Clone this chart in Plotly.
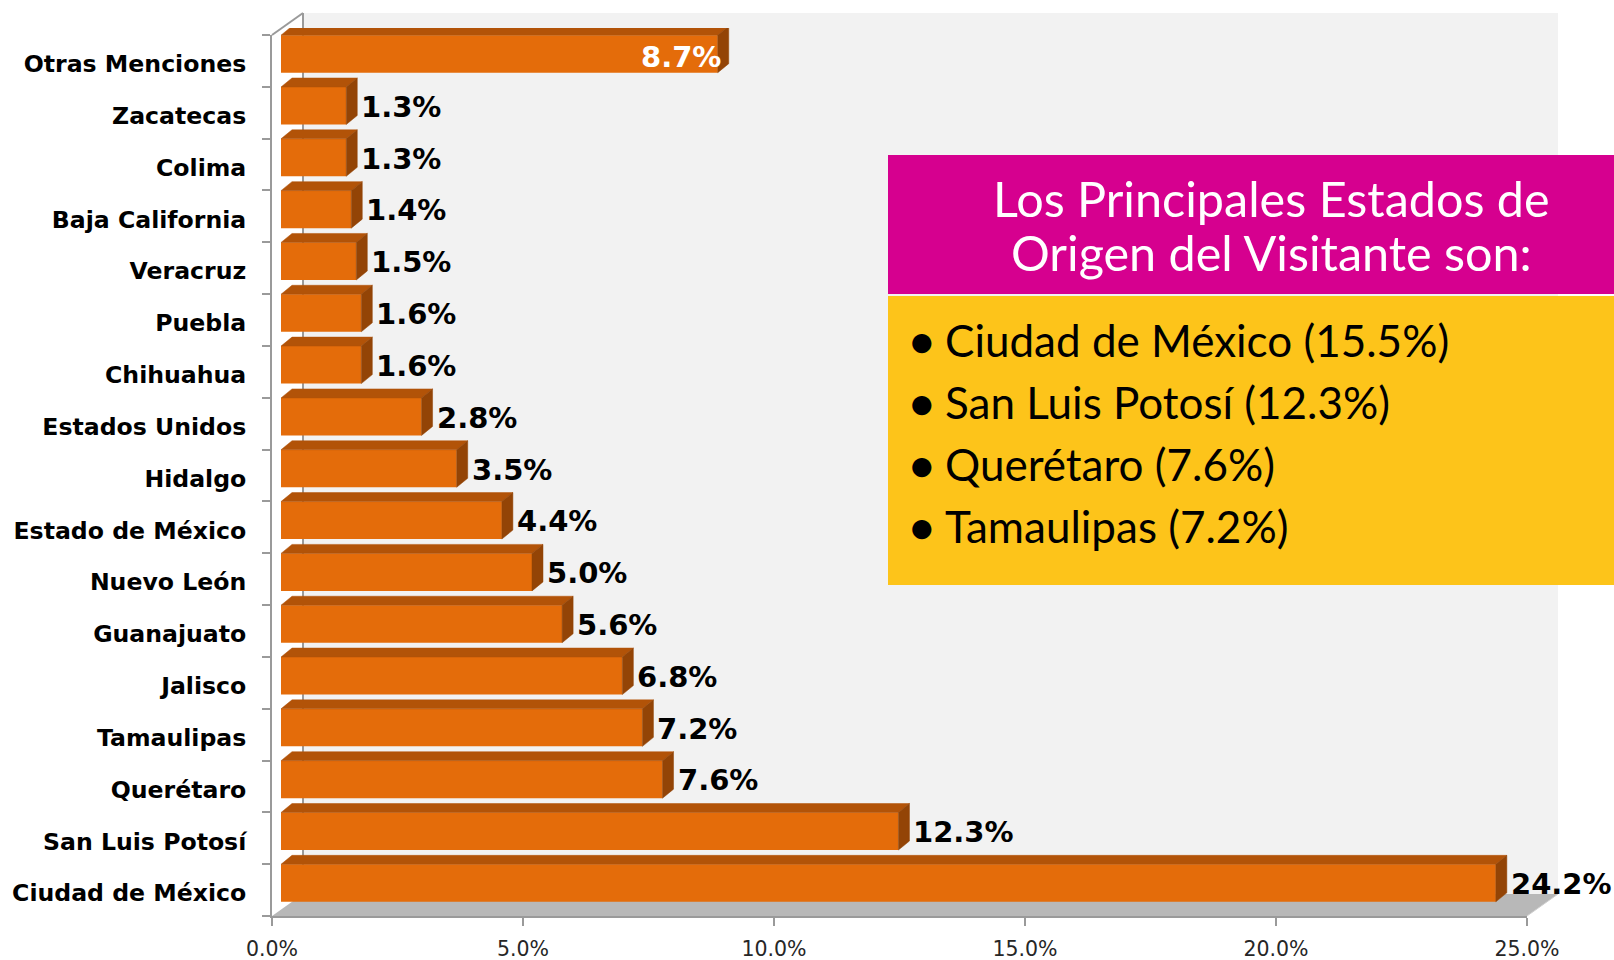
import plotly.graph_objects as go

# ---- data -------------------------------------------------------------
categories = [
    "Ciudad de México", "San Luis Potosí", "Querétaro", "Tamaulipas",
    "Jalisco", "Guanajuato", "Nuevo León", "Estado de México", "Hidalgo",
    "Estados Unidos", "Chihuahua", "Puebla", "Veracruz", "Baja California",
    "Colima", "Zacatecas", "Otras Menciones",
]
shares = [24.2, 12.3, 7.6, 7.2, 6.8, 5.6, 5.0, 4.4, 3.5, 2.8, 1.6, 1.6,
          1.5, 1.4, 1.3, 1.3, 8.7]
x_tick_values = [0, 5, 10, 15, 20, 25]
x_tick_labels = ["0.0%", "5.0%", "10.0%", "15.0%", "20.0%", "25.0%"]
inside_label_category = "Otras Menciones"

box_title_lines = ["Los Principales Estados de", "Origen del Visitante son:"]
box_items = [
    "Ciudad de México (15.5%)",
    "San Luis Potosí (12.3%)",
    "Querétaro (7.6%)",
    "Tamaulipas (7.2%)",
]

# ---- geometry (pixels) ------------------------------------------------
W, H = 1614, 960
X_MAX = 25
FRONT_L, FRONT_R = 272, 1527      # 0% and 25% on the front plane
FRONT_T, FRONT_B = 35, 916        # top / bottom of the category axis
BAR_SHIFT_X, BAR_SHIFT_Y = 9, 7   # bar front faces sit slightly inside
WALL_DX, WALL_DY = 31, 22         # depth of the back wall
FACE_DX, FACE_DY = 11, 9          # depth of each bar
BAR_PX = 37.5                     # height of a bar front face

ORANGE = "#e46c0a"
ORANGE_TOP = "#b25308"
ORANGE_SIDE = "#934406"
AXIS_GRAY = "#9a9a9a"
WALL = "#f2f2f2"
FLOOR = "#b8b8b8"
MAGENTA = "#d6008f"
YELLOW = "#fdc41a"

n = len(categories)
band = (FRONT_B - FRONT_T) / n
px_per_unit = (FRONT_R - FRONT_L) / X_MAX


def fx(px):
    return px / W


def fy(py):
    return 1 - py / H


half = BAR_PX / band / 2
dx = FACE_DX / px_per_unit
dy = FACE_DY / band
pos = list(range(n))

fig = go.Figure()

# front faces
fig.add_trace(go.Bar(
    x=shares, y=pos, orientation="h", width=2 * half,
    marker=dict(color=ORANGE, line=dict(width=0)),
    hoverinfo="skip", xaxis="x", yaxis="y",
))

# top and side faces of each bar
top_x, top_y, side_x, side_y = [], [], [], []
for i, v in zip(pos, shares):
    top_x += [0, v, v + dx, dx, 0, None]
    top_y += [i + half, i + half, i + half + dy, i + half + dy, i + half, None]
    side_x += [v, v, v + dx, v + dx, v, None]
    side_y += [i - half, i + half, i + half + dy, i - half + dy, i - half, None]

fig.add_trace(go.Scatter(
    x=top_x, y=top_y, mode="lines", fill="toself", fillcolor=ORANGE_TOP,
    line=dict(width=0.5, color=ORANGE_TOP), hoverinfo="skip",
    xaxis="x", yaxis="y",
))
fig.add_trace(go.Scatter(
    x=side_x, y=side_y, mode="lines", fill="toself", fillcolor=ORANGE_SIDE,
    line=dict(width=0.5, color=ORANGE_SIDE), hoverinfo="skip",
    xaxis="x", yaxis="y",
))

# the front-plane axes carry the tick marks and category names
fig.add_trace(go.Scatter(
    x=[0], y=[0], mode="markers", marker=dict(opacity=0),
    hoverinfo="skip", xaxis="x2", yaxis="y2",
))

# value labels
annotations = []
for i, (cat, v) in enumerate(zip(categories, shares)):
    inside = cat == inside_label_category
    annotations.append(dict(
        x=v, y=i, xref="x", yref="y",
        xanchor="right" if inside else "left", yanchor="middle",
        xshift=5 if inside else 13, yshift=-3 if inside else -1,
        text=f"{v:.1f}%", showarrow=False,
        font=dict(family="DejaVu Sans", size=29,
                  color="white" if inside else "black", weight="bold"),
    ))

# summary box text
title_y = [198, 252]
for line, yy in zip(box_title_lines, title_y):
    annotations.append(dict(
        x=fx(1271), y=fy(yy), xref="paper", yref="paper",
        xanchor="center", yanchor="middle", text=line, showarrow=False,
        font=dict(family="Lato", size=48.5, color="white"),
    ))
item_y = [340, 402, 464, 526]
for item, yy in zip(box_items, item_y):
    annotations.append(dict(
        x=fx(922), y=fy(yy), xref="paper", yref="paper",
        xanchor="center", yanchor="middle", text="•", showarrow=False,
        font=dict(family="Lato", size=44, color="black", weight="bold"),
    ))
    annotations.append(dict(
        x=fx(943), y=fy(yy), xref="paper", yref="paper",
        xanchor="left", yanchor="middle", text=item, showarrow=False,
        font=dict(family="Lato", size=44, color="black"),
    ))

# walls, floor and the summary box
shapes = [
    dict(type="rect", xref="paper", yref="paper", layer="below",
         x0=fx(FRONT_L + WALL_DX), x1=fx(FRONT_R + WALL_DX),
         y0=fy(FRONT_B - WALL_DY), y1=fy(FRONT_T - WALL_DY),
         fillcolor=WALL, line=dict(width=0)),
    dict(type="path", xref="paper", yref="paper", layer="below",
         path=(f"M {fx(FRONT_L)} {fy(FRONT_B)} L {fx(FRONT_R)} {fy(FRONT_B)} "
               f"L {fx(FRONT_R + WALL_DX)} {fy(FRONT_B - WALL_DY)} "
               f"L {fx(FRONT_L + WALL_DX)} {fy(FRONT_B - WALL_DY)} Z"),
         fillcolor=FLOOR, line=dict(width=0)),
    dict(type="line", xref="paper", yref="paper", layer="below",
         x0=fx(FRONT_L + WALL_DX), x1=fx(FRONT_L + WALL_DX),
         y0=fy(FRONT_B - WALL_DY), y1=fy(FRONT_T - WALL_DY),
         line=dict(color=AXIS_GRAY, width=2)),
    dict(type="line", xref="paper", yref="paper", layer="below",
         x0=fx(FRONT_L), x1=fx(FRONT_L + WALL_DX),
         y0=fy(FRONT_T), y1=fy(FRONT_T - WALL_DY),
         line=dict(color=AXIS_GRAY, width=2)),
    dict(type="line", xref="paper", yref="paper", layer="below",
         x0=fx(FRONT_R), x1=fx(FRONT_R + WALL_DX),
         y0=fy(FRONT_B), y1=fy(FRONT_B - WALL_DY),
         line=dict(color="#cfcfcf", width=1)),
    dict(type="rect", xref="paper", yref="paper", layer="above",
         x0=fx(888), x1=1, y0=fy(294), y1=fy(155),
         fillcolor=MAGENTA, line=dict(width=0)),
    dict(type="rect", xref="paper", yref="paper", layer="above",
         x0=fx(888), x1=1, y0=fy(585), y1=fy(296),
         fillcolor=YELLOW, line=dict(width=0)),
]

fig.update_layout(
    width=W, height=H,
    margin=dict(l=0, r=0, t=0, b=0, autoexpand=False),
    paper_bgcolor="white", plot_bgcolor="rgba(0,0,0,0)",
    showlegend=False,
    xaxis=dict(
        domain=[fx(FRONT_L + BAR_SHIFT_X), fx(FRONT_R + BAR_SHIFT_X)],
        range=[0, X_MAX], visible=False, anchor="y", fixedrange=True,
        automargin=False,
    ),
    yaxis=dict(
        domain=[fy(FRONT_B - BAR_SHIFT_Y), fy(FRONT_T - BAR_SHIFT_Y)],
        range=[-0.5, n - 0.5], visible=False, anchor="x", fixedrange=True,
        automargin=False,
    ),
    xaxis2=dict(
        domain=[fx(FRONT_L), fx(FRONT_R)], range=[0, X_MAX], anchor="y2",
        tickmode="array", tickvals=x_tick_values, ticktext=x_tick_labels,
        ticks="outside", ticklen=8, tickwidth=2, tickcolor=AXIS_GRAY,
        showline=True, linecolor=AXIS_GRAY, linewidth=2,
        showgrid=False, zeroline=False, ticklabelstandoff=5,
        tickfont=dict(family="DejaVu Sans", size=20.5, color="#262626"),
        fixedrange=True, automargin=False,
    ),
    yaxis2=dict(
        domain=[fy(FRONT_B), fy(FRONT_T)], range=[-0.5, n - 0.5], anchor="x2",
        tickmode="array", tickvals=pos, ticktext=categories, ticks="",
        minor=dict(tick0=0.5, dtick=1, ticks="outside", ticklen=8,
                   tickwidth=2, tickcolor=AXIS_GRAY, showgrid=False),
        showline=True, linecolor=AXIS_GRAY, linewidth=2,
        showgrid=False, zeroline=False, ticklabelstandoff=19,
        ticklabelshift=3,
        tickfont=dict(family="DejaVu Sans", size=23.6, color="black", weight="bold"),
        fixedrange=True, automargin=False,
    ),
    shapes=shapes,
    annotations=annotations,
)

fig.write_html("out.html")
